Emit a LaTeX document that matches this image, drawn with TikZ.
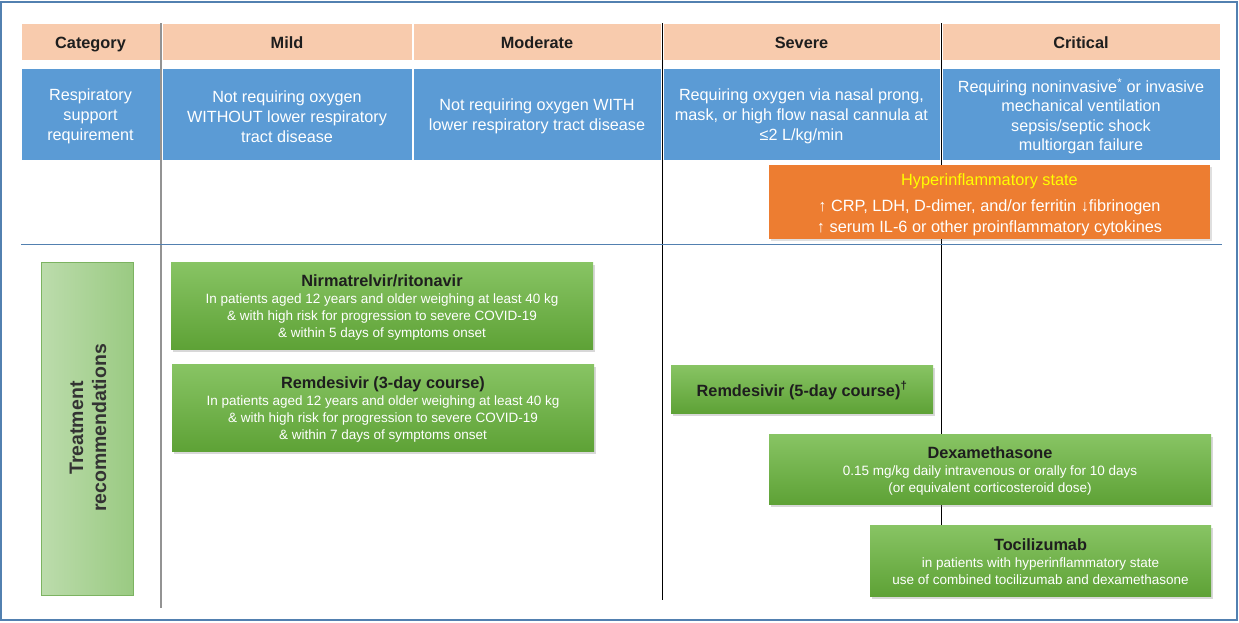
\documentclass[tikz,border=0pt]{standalone}
\usepackage{fontspec}
\setmainfont{Liberation Sans}
\usetikzlibrary{shadows,fit}
\definecolor{peach}{HTML}{F8CBAD}
\definecolor{bluecell}{HTML}{5B9BD5}
\definecolor{orangecell}{HTML}{ED7D31}
\definecolor{gtop}{HTML}{88C464}
\definecolor{gbot}{HTML}{5EA236}
\definecolor{tleft}{HTML}{BCDCAC}
\definecolor{tright}{HTML}{9ACA82}
\definecolor{tborder}{HTML}{7CB361}
\definecolor{frameblue}{HTML}{5280B0}
\definecolor{darktext}{HTML}{1E1E1E}
\definecolor{hyper}{HTML}{FFFF00}
\begin{document}
\begin{tikzpicture}[x=1pt,y=-1pt,
  hdr/.style={fill=peach, draw=white, line width=0.8pt, inner sep=0pt},
  hdrtxt/.style={font=\fontsize{16.3}{19}\selectfont\bfseries, text=darktext, anchor=base, inner sep=0pt},
  blu/.style={fill=bluecell, draw=white, line width=0.8pt, inner sep=0pt},
  blutxt/.style={font=\fontsize{16.2}{20}\selectfont, text=white, align=center, inner sep=0pt},
  grid/.style={line width=0.8pt, draw=black},
  gridgray/.style={line width=1.3pt, draw=gray!85},
  greenbox/.style={top color=gtop, bottom color=gbot, draw=none, inner sep=0pt,
    drop shadow={shadow xshift=1.5pt, shadow yshift=-2.5pt, opacity=0.3}},
  greentxt/.style={align=center, text=white, font=\fontsize{13.5}{16.7}\selectfont, inner sep=0pt},
  orbox/.style={fill=orangecell, draw=none, inner sep=0pt,
    drop shadow={shadow xshift=1.5pt, shadow yshift=-2pt, opacity=0.25}},
  ortxt/.style={align=center, text=white, font=\fontsize{16.3}{20.5}\selectfont, inner sep=0pt},
  ttl/.style={font=\fontsize{16.3}{19}\selectfont\bfseries}
]
\useasboundingbox (0,0) rectangle (1239,622);
\fill[white] (0,0) rectangle (1239,622);
\draw[frameblue, line width=1.2pt] (1,2) rectangle (1237,620);

% header row
\node[hdr, fit={(21,23)(160,60)}] (hcat) {};
\node[hdrtxt] at (90.5,48) {Category};
\node[hdr, fit={(162,23)(412,60)}] (hmild) {};
\node[hdrtxt] at (287,48) {Mild};
\node[hdr, fit={(413,23)(661,60)}] (hmod) {};
\node[hdrtxt] at (537,48) {Moderate};
\node[hdr, fit={(663,23)(940,60)}] (hsev) {};
\node[hdrtxt] at (801.5,48) {Severe};
\node[hdr, fit={(942,23)(1220,60)}] (hcrit) {};
\node[hdrtxt] at (1081,48) {Critical};

% blue row
\node[blu, fit={(21,68)(160,160)}] (bcat) {};
\node[blutxt] at ([yshift=-2.5pt]bcat.center) {Respiratory\\support\\requirement};
\node[blu, fit={(162,68)(412,160)}] (bmild) {};
\node[blutxt] at ([yshift=-2.5pt]bmild.center) {Not requiring oxygen\\WITHOUT lower respiratory\\tract disease};
\node[blu, fit={(413,68)(661,160)}] (bmod) {};
\node[blutxt] at ([yshift=-2.5pt]bmod.center) {Not requiring oxygen WITH\\lower respiratory tract disease};
\node[blu, fit={(663,68)(940,160)}] (bsev) {};
\node[blutxt] at ([yshift=-2.5pt]bsev.center) {Requiring oxygen via nasal prong,\\mask, or high flow nasal cannula at\\≤2 L/kg/min};
\node[blu, fit={(942,68)(1220,160)}] (bcrit) {};
\node[blutxt, font=\fontsize{16.2}{19.3}\selectfont] at ([yshift=-2pt]bcrit.center) {Requiring noninvasive\textsuperscript{*} or invasive\\mechanical ventilation\\sepsis/septic shock\\multiorgan failure};

% grid lines
\coordinate (l1t) at (161,23); \coordinate (l1b) at (161,608);
\coordinate (l2t) at (662,23); \coordinate (l2b) at (662,600);
\coordinate (l3t) at (941,23); \coordinate (l3b) at (941,560);
\coordinate (hl) at (21,244); \coordinate (hr) at (1222,244);
\draw[gridgray] (l1t) -- (l1b);
\draw[grid] (l2t) -- (l2b);
\draw[grid] (l3t) -- (l3b);
\draw[line width=0.8pt, draw=frameblue] (hl) -- (hr);

% hyperinflammatory state
\node[orbox, fit={(769,165)(1210,239)}] (hyp) {};
\node[ortxt] at ([yshift=-3pt]hyp.center) {{\color{hyper}Hyperinflammatory state}\\[5.5pt]↑ CRP, LDH, D-dimer, and/or ferritin ↓fibrinogen\\↑ serum IL-6 or other proinflammatory cytokines};

% treatment label
\node[fit={(41,262)(133,595)}, inner sep=0pt, left color=tleft, right color=tright, draw=tborder, line width=1pt] (treat) {};
\node[rotate=90, align=center, font=\fontsize{19.5}{23}\selectfont\bfseries, text=black!80] at (88,428) {Treatment\\recommendations};

% green boxes
\node[greenbox, fit={(171,262)(593,349)}] (nirm) {};
\node[greentxt] at ([yshift=-2pt]nirm.center)
  {{\fontsize{16.3}{19}\selectfont\bfseries\color{darktext}Nirmatrelvir/ritonavir}\\[0.5pt]
   In patients aged 12 years and older weighing at least 40 kg\\
   \& with high risk for progression to severe COVID-19\\
   \& within 5 days of symptoms onset};

\node[greenbox, fit={(172,364)(594,451)}] (rem3) {};
\node[greentxt] at ([yshift=-2pt]rem3.center)
  {{\fontsize{16.3}{19}\selectfont\bfseries\color{darktext}Remdesivir (3-day course)}\\[0.5pt]
   In patients aged 12 years and older weighing at least 40 kg\\
   \& with high risk for progression to severe COVID-19\\
   \& within 7 days of symptoms onset};

\node[greenbox, fit={(671,365)(933,413)}] (rem5) {};
\node[ttl, text=darktext, inner sep=0pt] at ([yshift=-1.5pt]rem5.center)
  {Remdesivir (5-day course)\textsuperscript{†}};

\node[greenbox, fit={(769,434)(1211,504)}] (dexa) {};
\node[greentxt] at ([yshift=-2pt]dexa.center)
  {{\fontsize{16.3}{19}\selectfont\bfseries\color{darktext}Dexamethasone}\\[0.5pt]
   0.15 mg/kg daily intravenous or orally for 10 days\\
   (or equivalent corticosteroid dose)};

\node[greenbox, fit={(870,525)(1211,596)}] (toci) {};
\node[greentxt] at ([yshift=-1pt]toci.center)
  {{\fontsize{16.3}{19}\selectfont\bfseries\color{darktext}Tocilizumab}\\[0.5pt]
   in patients with hyperinflammatory state\\
   use of combined tocilizumab and dexamethasone};
\end{tikzpicture}
\end{document}
